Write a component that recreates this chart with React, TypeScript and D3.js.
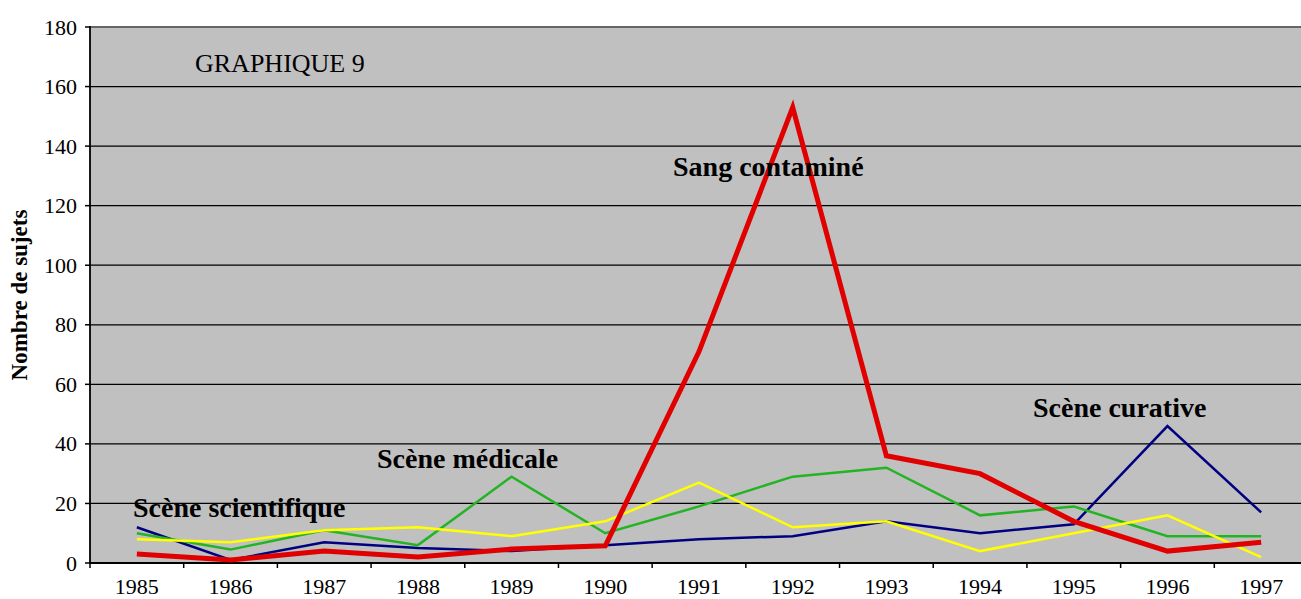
import React, { useEffect, useRef } from 'react';
import * as d3 from 'd3';

// années (axe des x)
const years = ['1985', '1986', '1987', '1988', '1989', '1990', '1991', '1992', '1993', '1994', '1995', '1996', '1997'];

// séries
const sangContamine = [3, 1, 4, 2, 4.7, 5.8, 71, 153, 36, 30, 14, 4, 7];
const sceneCurative = [12, 1, 7, 5, 4, 6, 8, 9, 14, 10, 13, 46, 17];
const sceneMedicale = [10, 4.5, 11, 6, 29, 10, 19, 29, 32, 16, 19, 9, 9];
const sceneScientifique = [8, 7, 11, 12, 9, 14, 27, 12, 14, 4, 10, 16, 2];

const yTicks = [0, 20, 40, 60, 80, 100, 120, 140, 160, 180];

const W = 1301;
const H = 599;
const margin = { top: 27, left: 90, bottom: 36 };

const App = () => {
  const svgRef = useRef<SVGSVGElement>(null);

  useEffect(() => {
    const svg = d3.select(svgRef.current);
    svg.selectAll('*').remove();

    const x = d3
      .scaleBand()
      .domain(years)
      .range([margin.left, 1308])
      .padding(0);
    const y = d3
      .scaleLinear()
      .domain([0, 180])
      .range([H - margin.bottom, margin.top]);

    const font = "'Liberation Serif', 'Times New Roman', serif";

    // fond gris
    svg
      .append('rect')
      .attr('x', margin.left)
      .attr('y', y(180))
      .attr('width', W - margin.left)
      .attr('height', y(0) - y(180))
      .attr('fill', '#c0c0c0');

    // grille
    svg
      .selectAll('.grid')
      .data(yTicks.filter(d => d > 0 && d < 180))
      .enter()
      .append('line')
      .attr('x1', margin.left)
      .attr('x2', W)
      .attr('y1', d => y(d))
      .attr('y2', d => y(d))
      .attr('stroke', '#000')
      .attr('stroke-width', 1.3);

    // bord du haut
    svg
      .append('line')
      .attr('x1', margin.left)
      .attr('x2', W)
      .attr('y1', y(180))
      .attr('y2', y(180))
      .attr('stroke', '#666')
      .attr('stroke-width', 2);

    // axe y
    svg
      .append('line')
      .attr('x1', margin.left)
      .attr('x2', margin.left)
      .attr('y1', y(180) - 1)
      .attr('y2', y(0) + 1)
      .attr('stroke', '#000')
      .attr('stroke-width', 1.8);

    svg
      .selectAll('.ytick')
      .data(yTicks)
      .enter()
      .append('line')
      .attr('x1', margin.left - 5)
      .attr('x2', margin.left)
      .attr('y1', d => y(d))
      .attr('y2', d => y(d))
      .attr('stroke', '#000')
      .attr('stroke-width', 1.5);

    svg
      .selectAll('.ylab')
      .data(yTicks)
      .enter()
      .append('text')
      .attr('x', 77)
      .attr('y', d => y(d) + 7.5)
      .attr('text-anchor', 'end')
      .attr('font-family', font)
      .attr('font-size', 22)
      .attr('fill', '#000')
      .text(d => d);

    // axe x
    svg
      .append('line')
      .attr('x1', margin.left)
      .attr('x2', W)
      .attr('y1', y(0))
      .attr('y2', y(0))
      .attr('stroke', '#000')
      .attr('stroke-width', 1.8);

    svg
      .selectAll('.xtick')
      .data(years)
      .enter()
      .append('line')
      .attr('x1', d => x(d)!)
      .attr('x2', d => x(d)!)
      .attr('y1', y(0))
      .attr('y2', y(0) + 5)
      .attr('stroke', '#000')
      .attr('stroke-width', 1.5);

    svg
      .selectAll('.xlab')
      .data(years)
      .enter()
      .append('text')
      .attr('x', d => x(d)! + x.bandwidth() / 2)
      .attr('y', 594)
      .attr('text-anchor', 'middle')
      .attr('font-family', font)
      .attr('font-size', 22)
      .attr('fill', '#000')
      .text(d => d);

    // titre axe y
    svg
      .append('text')
      .attr('transform', 'translate(27,295) rotate(-90)')
      .attr('text-anchor', 'middle')
      .attr('font-family', font)
      .attr('font-weight', 'bold')
      .attr('font-size', 23)
      .attr('fill', '#000')
      .text('Nombre de sujets');

    // courbes
    const line = d3
      .line<number>()
      .x((d, i) => x(years[i])! + x.bandwidth() / 2)
      .y(d => y(d));

    const series = [
      { values: sceneCurative, color: '#000080', w: 2.5 },
      { values: sceneMedicale, color: '#22b422', w: 2.5 },
      { values: sceneScientifique, color: '#ffff00', w: 2.5 },
      { values: sangContamine, color: '#e00000', w: 5 },
    ];

    series.forEach(s => {
      svg
        .append('path')
        .datum(s.values)
        .attr('d', line)
        .attr('fill', 'none')
        .attr('stroke', s.color)
        .attr('stroke-width', s.w);
    });

    // étiquettes
    const labels = [
      { t: 'GRAPHIQUE 9', x: 195, y: 72, bold: false, size: 26 },
      { t: 'Sang contaminé', x: 673, y: 176, bold: true, size: 28 },
      { t: 'Scène médicale', x: 377, y: 468, bold: true, size: 28 },
      { t: 'Scène curative', x: 1033, y: 417, bold: true, size: 28 },
      { t: 'Scène scientifique', x: 133, y: 517, bold: true, size: 28 },
    ];

    svg
      .selectAll('.lab')
      .data(labels)
      .enter()
      .append('text')
      .attr('x', d => d.x)
      .attr('y', d => d.y)
      .attr('font-family', font)
      .attr('font-weight', d => (d.bold ? 'bold' : 'normal'))
      .attr('font-size', d => d.size)
      .attr('fill', '#000')
      .text(d => d.t);
  }, []);

  return (
    <div style={{ position: 'absolute', top: 0, left: 0 }}>
      <svg ref={svgRef} width={W} height={H} style={{ display: 'block', background: '#fff' }}></svg>
    </div>
  );
};

export default App;
